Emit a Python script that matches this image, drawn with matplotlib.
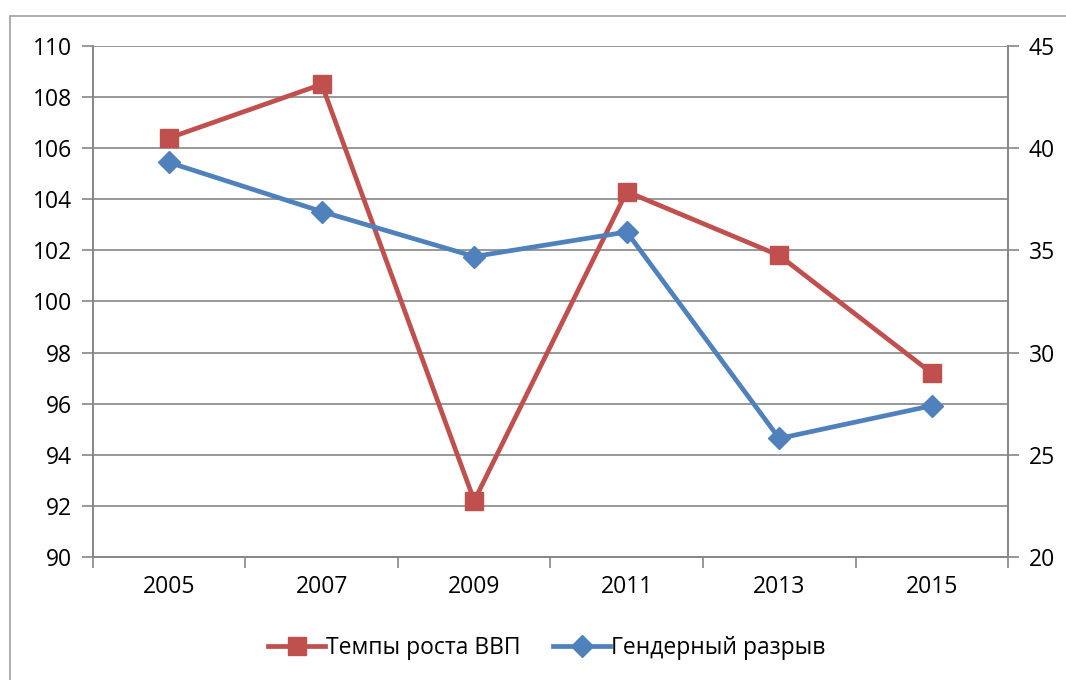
import matplotlib
matplotlib.use('Agg')
from matplotlib import pyplot as plt
from matplotlib.patches import Rectangle
import numpy as np

years = ['2005', '2007', '2009', '2011', '2013', '2015']
gdp_growth = [106.4, 108.5, 92.2, 104.3, 101.8, 97.2]
gender_gap = [39.3, 36.9, 34.7, 35.9, 25.8, 27.4]

red = '#C0504D'
blue = '#4F81BD'
grid_col = '#868686'

plt.rcParams['font.family'] = ['Open Sans', 'DejaVu Sans']

fig = plt.figure(figsize=(10.66, 6.8), dpi=100)
fig.patches.append(Rectangle((10 / 1066, -0.1), 1.2, 1.1 - 16 / 680,
                             transform=fig.transFigure, fill=False,
                             edgecolor='#A0A0A0', linewidth=1.2))

ax = fig.add_axes([0.0872, 0.1809, 0.8584, 0.7515])
ax2 = ax.twinx()

x = np.arange(len(years))
l1, = ax.plot(x, gdp_growth, color=red, linewidth=3.4, marker='s',
              markersize=13.5, label='Темпы роста ВВП', zorder=3)
l2, = ax2.plot(x, gender_gap, color=blue, linewidth=3.4, marker='D',
               markersize=11, label='Гендерный разрыв', zorder=3)

ax.set_xlim(-0.5, len(years) - 0.5)
ax.set_ylim(90, 110)
ax.set_yticks(np.arange(90, 111, 2))
ax2.set_ylim(20, 45)
ax2.set_yticks(np.arange(20, 46, 5))

ax.set_xticks(x)
ax.set_xticklabels(years)
ax.set_xticks(np.arange(-0.5, len(years), 1), minor=True)
ax.tick_params(axis='x', which='major', length=0, pad=13, labelsize=16.5)
ax.tick_params(axis='x', which='minor', length=8, color=grid_col, width=1.2)
ax.tick_params(axis='y', length=8, color=grid_col, width=1.2, labelsize=16.5, pad=7)
ax2.tick_params(axis='y', length=8, color=grid_col, width=1.2, labelsize=16.5, pad=7)

ax.yaxis.grid(True, color=grid_col, linewidth=1.2)
ax.set_axisbelow(True)

for a in (ax, ax2):
    a.spines['top'].set_visible(False)
    for s in ('left', 'right', 'bottom'):
        a.spines[s].set_color(grid_col)
        a.spines[s].set_linewidth(1.2)

fig.legend(handles=[l1, l2], loc='center', bbox_to_anchor=(0.513, 1 - 648 / 680),
           ncol=2, frameon=False, fontsize=16.5, handlelength=2.5,
           columnspacing=1.4, handletextpad=0.05)

fig.savefig('out.png', dpi=100)
